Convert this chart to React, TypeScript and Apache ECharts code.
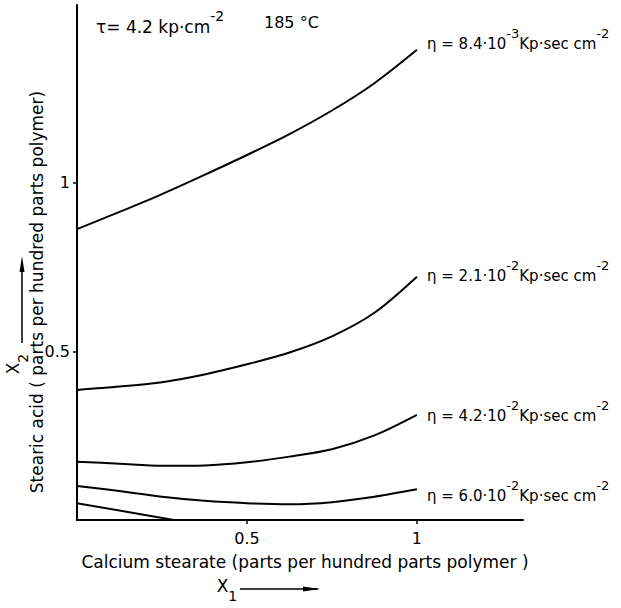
import React, { useEffect, useRef } from "react";
import * as echarts from "echarts";

// Stearic acid (x2) vs calcium stearate (x1) at constant viscosity, tau = 4.2 kp/cm2, 185 °C
const gridX = [0, 0.125, 0.25, 0.375, 0.5, 0.625, 0.75, 0.875, 1.0];
const eta84Y = [0.863, 0.914, 0.967, 1.024, 1.083, 1.145, 1.215, 1.296, 1.395];
const eta21Y = [0.386, 0.396, 0.409, 0.432, 0.462, 0.497, 0.545, 0.615, 0.722];
const eta42Y = [0.173, 0.167, 0.161, 0.162, 0.171, 0.188, 0.21, 0.251, 0.312];
const eta60Y = [0.101, 0.086, 0.069, 0.057, 0.05, 0.047, 0.053, 0.069, 0.091];
const lowX = [0, 0.285];
const lowY = [0.05, 0];

const xTicks = [0.5, 1];
const yTicks = [0.5, 1];

const etaLabels = [
  { mant: "8.4", exp: "-3" },
  { mant: "2.1", exp: "-2" },
  { mant: "4.2", exp: "-2" },
  { mant: "6.0", exp: "-2" },
];

const FONT = "DejaVu Sans";

const pairs = (xs: number[], ys: number[]) => xs.map((x, i) => [x, ys[i]]);

export default function App() {
  const ref = useRef<HTMLDivElement>(null);

  useEffect(() => {
    if (!ref.current) return;
    const chart = echarts.init(ref.current, null, { renderer: "svg" });

    const curve = (name: string, xs: number[], ys: number[]) => ({
      name,
      type: "line",
      data: pairs(xs, ys),
      smooth: 0.3,
      showSymbol: false,
      lineStyle: { color: "#000", width: 2 },
      z: 3,
    });

    const rich = {
      m: { fontFamily: FONT, fontSize: 15, color: "#000", lineHeight: 24, verticalAlign: "bottom" },
      s: { fontFamily: FONT, fontSize: 13, color: "#000", lineHeight: 24, verticalAlign: "top" },
    };

    const topRich = {
      m: { fontFamily: FONT, fontSize: 17, color: "#000", lineHeight: 26, verticalAlign: "bottom" },
      s: { fontFamily: FONT, fontSize: 14, color: "#000", lineHeight: 26, verticalAlign: "top" },
    };

    const subRich = {
      m: { fontFamily: FONT, fontSize: 17, color: "#000", lineHeight: 26, verticalAlign: "top" },
      b: { fontFamily: FONT, fontSize: 14, color: "#000", lineHeight: 26, verticalAlign: "bottom" },
    };

    const etaY = [40, 272, 412, 492];
    const etaText = etaLabels.map((l, i) => ({
      type: "text",
      left: 427,
      top: etaY[i] - 13,
      style: {
        text: `{m|η = ${l.mant}·10}{s|${l.exp}}{m|Kp·sec cm}{s|-2}`,
        rich,
      },
    }));

    chart.setOption({
      animation: false,
      grid: { left: 77, top: 5, right: 98, bottom: 88 },
      xAxis: {
        type: "value",
        min: 0,
        max: 1.312,
        interval: 0.5,
        axisLine: { lineStyle: { color: "#000", width: 2 } },
        axisTick: { customValues: xTicks, length: 4, lineStyle: { color: "#000", width: 1.5 } },
        axisLabel: {
          customValues: xTicks,
          color: "#000",
          fontFamily: FONT,
          fontSize: 16,
          margin: 10,
          formatter: (v: number) => (v === 1 ? "1" : String(v)),
        },
        splitLine: { show: false },
      },
      yAxis: {
        type: "value",
        min: 0,
        max: 1.528,
        interval: 0.5,
        axisLine: { lineStyle: { color: "#000", width: 2 } },
        axisTick: { customValues: yTicks, length: 4, lineStyle: { color: "#000", width: 1.5 } },
        axisLabel: {
          customValues: yTicks,
          color: "#000",
          fontFamily: FONT,
          fontSize: 16,
          margin: 7,
          formatter: (v: number) => (v === 1 ? "1" : String(v)),
        },
        splitLine: { show: false },
      },
      series: [
        curve("eta 8.4e-3", gridX, eta84Y),
        curve("eta 2.1e-2", gridX, eta21Y),
        curve("eta 4.2e-2", gridX, eta42Y),
        curve("eta 6.0e-2", gridX, eta60Y),
        curve("lower", lowX, lowY),
      ],
      graphic: [
        {
          type: "text",
          left: 96,
          top: 9,
          style: { text: "{m|τ= 4.2 kp·cm}{s|-2}", rich: topRich },
        },
        {
          type: "text",
          left: 264,
          top: 14,
          style: { text: "185 °C", font: `16px ${FONT}`, fill: "#000" },
        },
        ...etaText,
        {
          type: "text",
          x: 37,
          y: 292,
          rotation: Math.PI / 2,
          style: {
            text: "Stearic acid ( parts per hundred parts polymer)",
            font: `17px ${FONT}`,
            fill: "#000",
            align: "center",
            verticalAlign: "middle",
          },
        },
        {
          type: "text",
          x: 17,
          y: 364,
          rotation: Math.PI / 2,
          style: { text: "{m|X}{b|2}", align: "center", verticalAlign: "middle", rich: subRich },
        },
        { type: "line", shape: { x1: 22, y1: 343, x2: 22, y2: 262 }, style: { stroke: "#000", lineWidth: 1.5 } },
        { type: "polygon", shape: { points: [[22, 256], [19.5, 272], [24.5, 272]] }, style: { fill: "#000" } },
        {
          type: "text",
          x: 305,
          y: 562,
          style: {
            text: "Calcium stearate (parts per hundred parts polymer )",
            font: `17px ${FONT}`,
            fill: "#000",
            align: "center",
            verticalAlign: "middle",
          },
        },
        {
          type: "text",
          x: 227,
          y: 590,
          style: { text: "{m|X}{b|1}", align: "center", verticalAlign: "middle", rich: subRich },
        },
        { type: "line", shape: { x1: 240, y1: 589, x2: 318, y2: 589 }, style: { stroke: "#000", lineWidth: 1.5 } },
        { type: "polygon", shape: { points: [[320, 589], [303, 586.5], [303, 591.5]] }, style: { fill: "#000" } },
      ],
    });

    return () => chart.dispose();
  }, []);

  return <div ref={ref} style={{ width: 621, height: 608, position: "absolute", left: 0, top: 0 }} />;
}
